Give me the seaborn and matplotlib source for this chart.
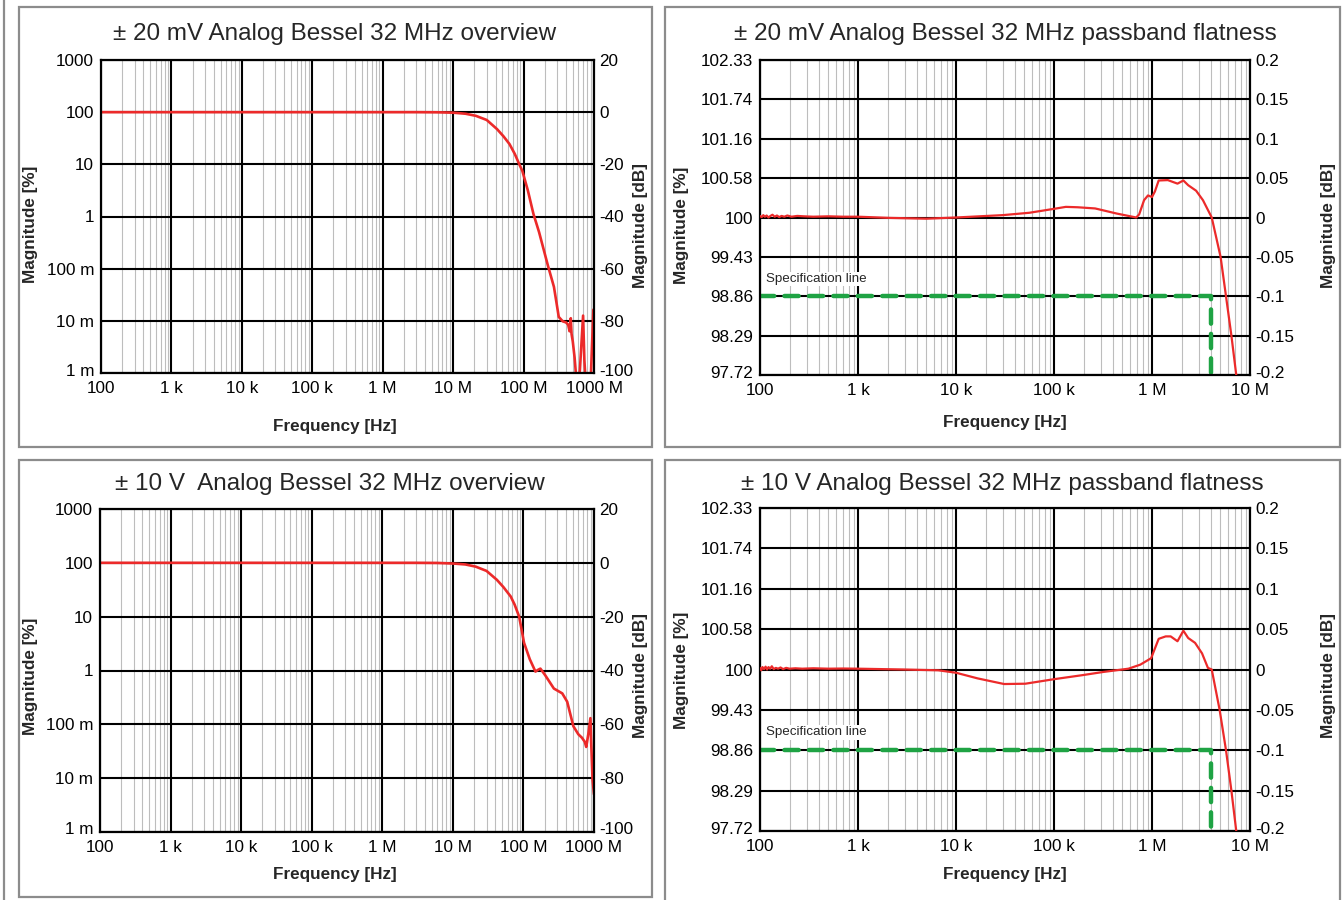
import matplotlib
matplotlib.use("Agg")
import matplotlib.pyplot as plt
from matplotlib.patches import Rectangle
from matplotlib.lines import Line2D
from matplotlib.ticker import LogLocator, NullLocator, NullFormatter
from matplotlib.transforms import ScaledTranslation
import numpy as np
import pandas as pd
import seaborn as sns

sns.set_theme(style="white")
plt.rcParams["font.family"] = ["Liberation Sans", "DejaVu Sans"]
plt.rcParams["axes.unicode_minus"] = False

# ---------------- measured sweeps (frequency in Hz, magnitude in dB) ----------------
# ±20 mV range, overview sweep
ov20_freq = [1e2, 3e2, 1e3, 3e3, 1e4, 3e4, 1e5, 3e5, 1e6, 3e6, 6e6,
             1.0e7, 1.5e7, 2.1e7, 3.0e7, 4.2e7, 5.2e7, 6.3e7, 7.5e7, 8.7e7, 9.6e7,
             1.15e8, 1.38e8, 1.66e8, 1.9e8, 2.2e8, 2.7e8, 3.16e8, 3.6e8, 4.0e8,
             4.3e8, 4.5e8, 4.68e8, 4.8e8, 5.0e8, 5.3e8, 5.6e8, 6.0e8, 6.3e8,
             7.0e8, 7.3e8, 7.6e8, 8.5e8, 9.0e8, 9.8e8]
ov20_db = [0, 0, 0, 0, 0, 0, 0, 0, 0, 0, -0.05,
           -0.2, -0.6, -1.4, -3.0, -6.5, -9.3, -12.2, -16.0, -20.0, -22.5,
           -30.0, -39.0, -46.0, -52.0, -58.5, -67.0, -78.5, -80.2, -80.6,
           -81.5, -84.0, -79.0, -85.0, -88.0, -94.0, -102.0, -103.0, -99.0,
           -78.0, -95.0, -103.0, -103.0, -102.0, -75.7]

# ±10 V range, overview sweep
ov10_freq = [1e2, 3e2, 1e3, 3e3, 1e4, 3e4, 1e5, 3e5, 1e6, 3e6, 6e6,
             1.0e7, 1.5e7, 2.1e7, 3.0e7, 4.2e7, 5.2e7, 6.6e7, 7.5e7, 8.7e7,
             1.02e8, 1.23e8, 1.48e8, 1.6e8, 1.74e8, 2.04e8, 2.7e8, 3.55e8,
             4.17e8, 5.1e8, 6.0e8, 6.76e8, 7.4e8, 7.76e8, 8.3e8, 8.9e8,
             9.1e8, 9.55e8, 1.0e9]
ov10_db = [0, 0, 0, 0, 0, 0, 0, 0, 0, 0, -0.05,
           -0.25, -0.6, -1.4, -3.0, -6.3, -9.0, -12.5, -15.5, -20.0,
           -29.7, -35.8, -40.4, -39.8, -39.3, -41.8, -46.7, -48.5,
           -51.6, -60.7, -63.7, -65.0, -66.5, -68.4, -63.7, -57.7,
           -66.0, -80.8, -86.0]

# ±20 mV range, passband flatness sweep
fl20_freq = [100, 104, 108, 112, 117, 122, 128, 134, 141, 149, 157, 166, 177, 190, 210, 240, 280, 350, 500, 700,
             1.0e3, 2.1e3, 5.0e3, 1.0e4, 3.0e4, 5.6e4, 1.0e5, 1.32e5, 1.74e5, 2.63e5, 4.37e5, 6.9e5,
             7.4e5, 8.3e5, 9.1e5, 1.0e6, 1.07e6, 1.17e6, 1.45e6, 1.82e6, 2.09e6, 2.34e6, 2.82e6, 3.31e6,
             4.07e6, 5.01e6, 5.69e6, 6.46e6, 7.24e6, 7.59e6]
fl20_db = [0.002, 0.0005, 0.003, 0.001, 0.0025, 0.0, 0.002, 0.0035, 0.001, 0.0025,
           0.0005, 0.002, 0.001, 0.0025, 0.001, 0.002, 0.0015, 0.001, 0.0015, 0.001,
           0.001, -0.0005, -0.0015, 0.0, 0.003, 0.006, 0.011, 0.0135, 0.013, 0.0115, 0.005, 0.0,
           0.004, 0.022, 0.028, 0.026, 0.033, 0.047, 0.0475, 0.043, 0.047, 0.041, 0.034, 0.022,
           0.0, -0.05, -0.1, -0.15, -0.2, -0.22]

# ±10 V range, passband flatness sweep
fl10_freq = [100, 103, 106, 110, 114, 118, 122, 127, 132, 138, 145, 153, 162, 172, 185, 200, 230, 270, 350, 500, 700,
             1.0e3, 2.9e3, 6.6e3, 1.0e4, 1.66e4, 3.1e4, 5.1e4, 1.0e5, 1.95e5, 3.2e5, 5.75e5, 7.6e5, 9.8e5,
             1.17e6, 1.38e6, 1.55e6, 1.82e6, 2.09e6, 2.34e6, 2.75e6, 3.24e6, 3.72e6,
             4.07e6, 4.9e6, 5.69e6, 6.46e6, 7.24e6, 7.59e6]
fl10_db = [0.002, -0.001, 0.003, 0.0005, 0.0035, 0.0, 0.003, 0.001, 0.004, 0.0005,
           0.002, 0.001, 0.0025, 0.0005, 0.002, 0.001, 0.0015, 0.001, 0.0015, 0.001, 0.0012,
           0.001, 0.0, -0.001, -0.004, -0.011, -0.018, -0.0176, -0.012, -0.007, -0.003, 0.001, 0.006, 0.014,
           0.038, 0.041, 0.041, 0.035, 0.048, 0.039, 0.033, 0.02, 0.002,
           0.0, -0.05, -0.1, -0.15, -0.2, -0.22]

# -0.1 dB specification limit up to 4 MHz
spec_freq = [1e2, 4.0e6, 4.0e6]
spec_db = [-0.1, -0.1, -0.2]

# ---------------- tick definitions ----------------
ov_freq_ticks = [1e2, 1e3, 1e4, 1e5, 1e6, 1e7, 1e8, 1e9]
ov_freq_labels = ["100", "1 k", "10 k", "100 k", "1 M", "10 M", "100 M", "1000 M"]
ov_pct_ticks = [1e-3, 1e-2, 1e-1, 1e0, 1e1, 1e2, 1e3]
ov_pct_labels = ["1 m", "10 m", "100 m", "1", "10", "100", "1000"]
ov_db_ticks = [-100, -80, -60, -40, -20, 0, 20]
ov_db_labels = ["-100", "-80", "-60", "-40", "-20", "0", "20"]

fl_freq_ticks = [1e2, 1e3, 1e4, 1e5, 1e6, 1e7]
fl_freq_labels = ["100", "1 k", "10 k", "100 k", "1 M", "10 M"]
fl_db_ticks = [-0.2, -0.15, -0.1, -0.05, 0.0, 0.05, 0.1, 0.15, 0.2]
fl_db_labels = ["-0.2", "-0.15", "-0.1", "-0.05", "0", "0.05", "0.1", "0.15", "0.2"]
fl_pct_labels = ["97.72", "98.29", "98.86", "99.43", "100", "100.58", "101.16", "101.74", "102.33"]

# ---------------- styling ----------------
W, H = 1343, 900
RED = "#ec2a2a"
GREEN = "#1fa344"
FRAME = "#8c8c8c"
MINOR = "#bdbdbd"
TICK_FS = 12.3
TITLE_FS = 17.5
LABEL_FS = 12.3

fig = plt.figure(figsize=(W / 100, H / 100), dpi=100)
fig.patch.set_facecolor("white")
LIFT = ScaledTranslation(0, 3.5 / 100, fig.dpi_scale_trans)


def rect(l, t, r, b):
    return [l / W, 1 - b / H, (r - l) / W, (b - t) / H]


def fxy(x, y):
    return x / W, 1 - y / H


def frame(l, t, r, b):
    fig.add_artist(Rectangle((l / W, 1 - b / H), (r - l) / W, (b - t) / H,
                             transform=fig.transFigure, fill=False,
                             ec=FRAME, lw=1.6, zorder=0))


def lift_bottom_label(axis):
    # raise the lowest y label a little so it clears the frequency labels
    tick = axis.get_major_ticks()[0]
    for lab in (tick.label1, tick.label2):
        lab.set_transform(lab.get_transform() + LIFT)


def style_axes(ax):
    ax.set_axisbelow(True)
    for s in ax.spines.values():
        s.set_visible(True)
        s.set_color("black")
        s.set_linewidth(1.6)
    ax.xaxis.set_minor_locator(LogLocator(base=10, subs=np.arange(2, 10), numticks=20))
    ax.xaxis.set_minor_formatter(NullFormatter())
    ax.grid(which="major", axis="both", color="black", lw=1.5)
    ax.grid(which="minor", axis="x", color=MINOR, lw=0.8)
    ax.tick_params(which="both", length=0, labelsize=TICK_FS, colors="black")
    ax.tick_params(axis="y", pad=5)
    ax.tick_params(axis="x", pad=6)
    ax.set_xlabel("")
    ax.set_ylabel("")
    lift_bottom_label(ax.yaxis)


def texts(title, title_xy, xlab_xy, ylab_l_xy, ylab_r_xy):
    fig.text(*fxy(*title_xy), title, fontsize=TITLE_FS, ha="center", va="center")
    fig.text(*fxy(*xlab_xy), "Frequency [Hz]", fontsize=LABEL_FS, fontweight="bold",
             ha="center", va="center")
    fig.text(*fxy(*ylab_l_xy), "Magnitude [%]", fontsize=LABEL_FS, fontweight="bold",
             ha="center", va="center", rotation=90)
    fig.text(*fxy(*ylab_r_xy), "Magnitude [dB]", fontsize=LABEL_FS, fontweight="bold",
             ha="center", va="center", rotation=90)


def right_axis(ax, lo, hi, ticks, labels):
    ax2 = ax.twinx()
    ax2.set_ylim(lo, hi)
    ax2.set_yticks(ticks, labels)
    ax2.grid(False)
    for s in ax2.spines.values():
        s.set_visible(False)
    ax2.tick_params(length=0, labelsize=TICK_FS, pad=4, colors="black")
    lift_bottom_label(ax2.yaxis)
    return ax2


def overview(box, freq, db):
    ax = fig.add_axes(rect(*box))
    ax.set_xscale("log")
    ax.set_yscale("log")
    df = pd.DataFrame({"freq": freq, "pct": 100 * 10 ** (np.asarray(db, float) / 20)})
    sns.lineplot(data=df, x="freq", y="pct", ax=ax, color=RED, lw=1.9,
                 estimator=None, sort=False)
    ax.set_xlim(1e2, 1e9)
    ax.set_ylim(1e-3, 1e3)
    ax.set_xticks(ov_freq_ticks, ov_freq_labels)
    ax.set_yticks(ov_pct_ticks, ov_pct_labels)
    ax.yaxis.set_minor_locator(NullLocator())
    style_axes(ax)
    right_axis(ax, -100, 20, ov_db_ticks, ov_db_labels)
    return ax


def flatness(box, freq, db):
    ax = fig.add_axes(rect(*box))
    ax.set_xscale("log")
    df = pd.DataFrame({"freq": freq, "db": db})
    sns.lineplot(data=df, x="freq", y="db", ax=ax, color=RED, lw=1.6,
                 estimator=None, sort=False, zorder=3)
    spec = pd.DataFrame({"freq": spec_freq, "db": spec_db})
    sns.lineplot(data=spec, x="freq", y="db", ax=ax, color=GREEN, lw=3.2,
                 estimator=None, sort=False, dashes=False, zorder=2)
    line = ax.lines[-1]
    line.set_linestyle((0, (3.2, 2.3)))
    line.set_dash_capstyle("round")
    ax.set_xlim(1e2, 1e7)
    ax.set_ylim(-0.2, 0.2)
    ax.set_xticks(fl_freq_ticks, fl_freq_labels)
    ax.set_yticks(fl_db_ticks, fl_pct_labels)
    style_axes(ax)
    ax.text(0.013, -0.078, "Specification line", transform=ax.get_yaxis_transform(),
            fontsize=9.6, ha="left", va="center", zorder=4,
            bbox=dict(fc="white", ec="none", pad=1.0))
    right_axis(ax, -0.2, 0.2, fl_db_ticks, fl_db_labels)
    return ax


# panel frames
fig.add_artist(Line2D([4 / W, 4 / W], [0, 1], transform=fig.transFigure, color=FRAME, lw=1.6))
frame(19, 7, 652, 447)
frame(665, 7, 1340, 447)
frame(19, 460, 652, 897)
frame(665, 460, 1340, 906)

overview((101, 60, 594, 373), ov20_freq, ov20_db)
texts("± 20 mV Analog Bessel 32 MHz overview", (335, 34), (335, 427), (31, 224), (640, 225))

flatness((760, 60, 1250, 375), fl20_freq, fl20_db)
texts("± 20 mV Analog Bessel 32 MHz passband flatness", (1005, 34), (1005, 422), (681, 225), (1328, 226))

overview((100, 509, 594, 832), ov10_freq, ov10_db)
texts("± 10 V  Analog Bessel 32 MHz overview", (330, 484), (335, 875), (31, 676), (640, 676))

flatness((760, 508, 1250, 831), fl10_freq, fl10_db)
texts("± 10 V Analog Bessel 32 MHz passband flatness", (1002, 484), (1005, 875), (681, 670), (1328, 675))

fig.savefig("out.png", dpi=100, facecolor="white")
